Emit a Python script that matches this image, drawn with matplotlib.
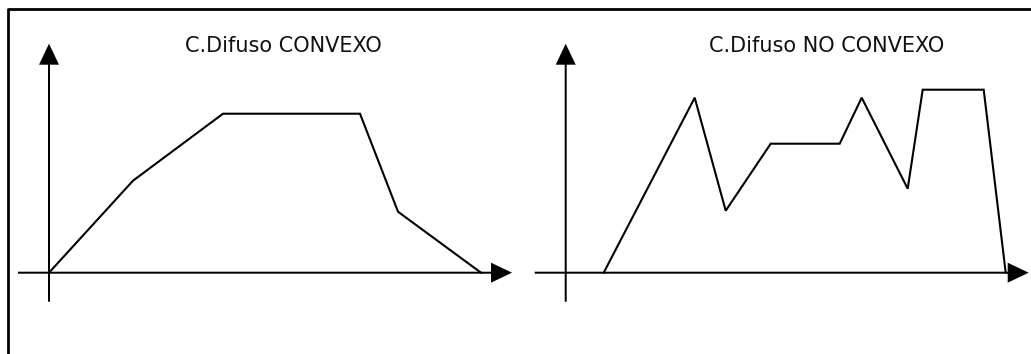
import matplotlib
matplotlib.use("Agg")
import matplotlib.pyplot as plt

# Conjunto difuso convexo (unidades ~ pixeles desde el origen)
conv_x = [0, 84, 174, 311, 349, 432]
conv_y = [0, 92, 159, 159, 61, 0]

# Conjunto difuso no convexo
noconv_x = [38, 129, 160, 205, 274, 296, 342, 357, 418, 440]
noconv_y = [0, 175, 62, 129, 129, 175, 84, 183, 183, 0]

titulos = ["C.Difuso CONVEXO", "C.Difuso NO CONVEXO"]
W, H = 1031, 354

fig = plt.figure(figsize=(W / 100, H / 100), dpi=100)

# marco de fondo
bg = fig.add_axes([0, 0, 1, 1])
bg.set_xlim(0, W)
bg.set_ylim(H, 0)
bg.set_axis_off()
bg.plot([8, 8, 1030], [H, 9, 9], color="black", lw=2, solid_capstyle="projecting")


def panel(ox, oy, xs, ys, titulo, tx):
    ax = fig.add_axes([(ox - 45) / W, 1 - (oy + 60) / H, 515 / W, 320 / H])
    ax.set_xlim(-45, 470)
    ax.set_ylim(-60, 260)
    ax.set_axis_off()
    # ejes con flecha
    ax.arrow(-31, 0, 494, 0, width=2, head_width=20, head_length=21,
             length_includes_head=True, color="black", lw=0)
    ax.arrow(0, -29, 0, 258, width=2, head_width=20, head_length=21,
             length_includes_head=True, color="black", lw=0)
    ax.plot(xs, ys, color="black", lw=1.5, solid_joinstyle="miter")
    ax.text(tx, 221, titulo, ha="center", va="baseline", fontsize=15,
            family="DejaVu Sans", color="#111111")
    return ax


panel(49, 272.7, conv_x, conv_y, titulos[0], 234)
panel(565.7, 272.7, noconv_x, noconv_y, titulos[1], 261)

fig.savefig("out.png", dpi=100)
